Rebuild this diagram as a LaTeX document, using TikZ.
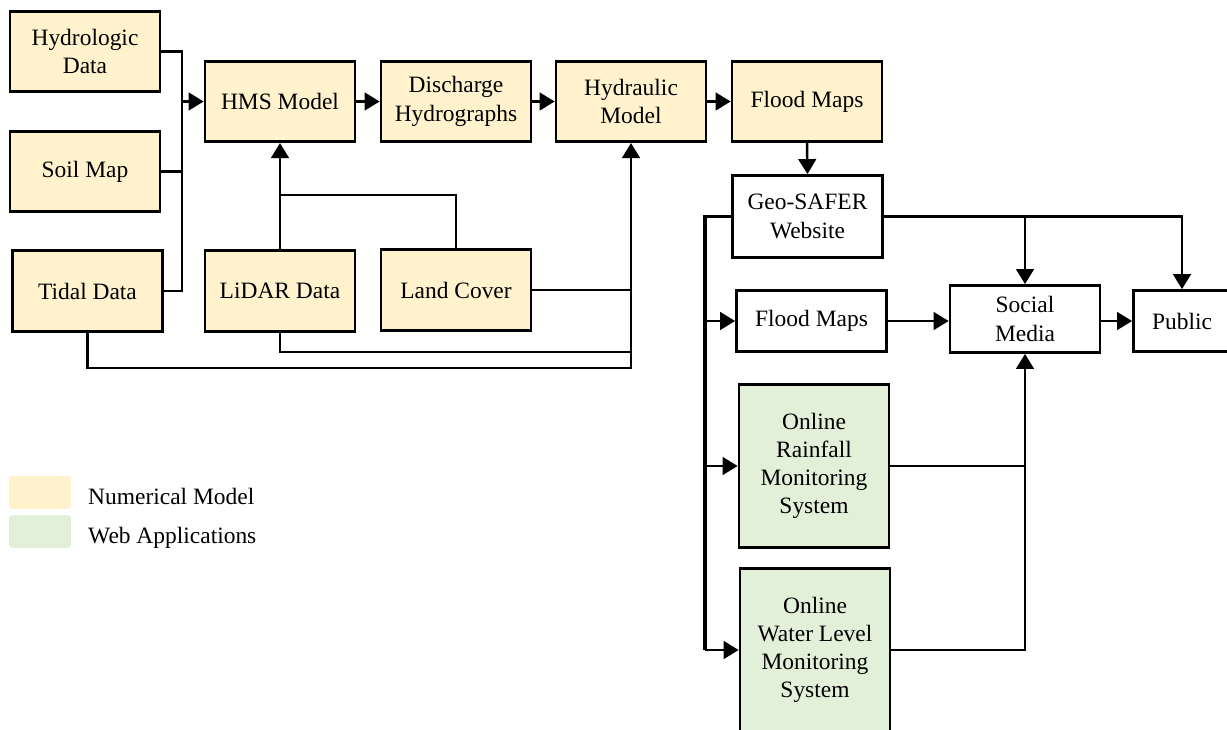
\documentclass[tikz,border=0pt]{standalone}
\usepackage{fontspec}
\setmainfont{Liberation Serif}
\usepackage{tikz}
\usetikzlibrary{%
  arrows.meta,%
  positioning,%
  calc%
}
\definecolor{numfill}{HTML}{FFF2CC}
\definecolor{appfill}{HTML}{E2EFD9}

\begin{document}
\begin{tikzpicture}
[x=0.567pt, y=-0.567pt, font=\fontsize{13.3}{16}\selectfont, line width=1.4pt,
>={Triangle[length=8.5pt, width=10pt]},
numbox/.style={rectangle, draw, line width=1.6pt, fill=numfill, align=center, inner sep=0pt, minimum width=85pt, minimum height=45.5pt},
webbox/.style={rectangle, draw, line width=1.6pt, fill=white, align=center, inner sep=0pt, minimum width=85pt, minimum height=34.5pt},
appbox/.style={rectangle, draw, line width=1.6pt, fill=appfill, align=center, inner sep=0pt, minimum width=85pt, minimum height=92pt},
keybox/.style={rectangle, rounded corners=1.5pt, inner sep=0pt, minimum width=35pt, minimum height=18.5pt},
keytext/.style={anchor=base west, inner sep=0pt}]

\useasboundingbox (0,0) rectangle (1227,729);

% numerical model
\node[numbox] (hydro) at (85,51.5) {Hydrologic\\Data};
\node[numbox] (soil) at (85,171.5) {Soil Map};
\node[numbox] (tidal) at (87.5,291) {Tidal Data};
\node[numbox] (hms) at (280,101.5) {HMS Model};
\node[numbox] (discharge) at (456,101.5) {Discharge\\Hydrographs};
\node[numbox] (hydraulic) at (631,101.5) {Hydraulic\\Model};
\node[numbox] (floodY) at (807,101.5) {Flood Maps};
\node[numbox] (lidar) at (280,291) {LiDAR Data};
\node[numbox] (land) at (456,290) {Land Cover};

% web applications
\node[webbox, minimum height=46.5pt] (geo) at (807.5,216.5) {Geo-SAFER\\Website};
\node[webbox] (floodW) at (811.5,321) {Flood Maps};
\node[webbox, minimum height=38pt] (social) at (1025,319) {Social\\Media};
\node[webbox, minimum width=55pt] (public) at (1182,321) {Public};
\node[appbox] (rain) at (814,466) {Online\\Rainfall\\Monitoring\\System};
\node[appbox] (water) at (815,650) {Online\\Water Level\\Monitoring\\System};

\coordinate (jin) at (182,101.5);
\coordinate (jlc) at (280,195);
\coordinate (jtid) at (631,368);
\coordinate (jlid) at (631,352);
\coordinate (jweb) at (705,216.5);
\coordinate (jwl) at (705,650);
\coordinate (jsm) at (1025,216.5);

\draw (hydro.east) -| (jin) |- (tidal.east);
\draw (soil.east) -- (soil.east -| jin);
\draw[->] (jin) -- (hms.west);
\draw[->] (hms.east) -- (discharge.west);
\draw[->] (discharge.east) -- (hydraulic.west);
\draw[->] (hydraulic.east) -- (floodY.west);

\draw[->] (lidar.north) -- (hms.south);
\draw (jlc) -| (land.north);
\draw[->] (tidal.south) |- (jtid) -- (hydraulic.south);
\draw (lidar.south) |- (jlid);
\draw (land.east) -- (land.east -| jtid);

\draw[->] (floodY.south) -- (geo.north);
\draw[line width=1.8pt] (geo.west) -- (jweb) -- (jwl);
\draw[->] (floodW.west -| jweb) -- (floodW.west);
\draw[->] (rain.west -| jweb) -- (rain.west);
\draw[->] (jwl) -- (water.west);

\draw[->] (geo.east) -| (public.north);
\draw[->] (jsm) -- (social.north);
\draw[->] (floodW.east) -- (floodW.east -| social.west);
\draw[->] (social.east |- public.west) -- (public.west);
\draw (rain.east) -- (rain.east -| social.south);
\draw[->] (water.east) -| (social.south);

% key
\node[keybox, fill=numfill] (keynum) at (40,492.5) {};
\node[keybox, fill=appfill] (keyapp) at (40,531.5) {};
\node[keytext] (numtext) at (87,504) {Numerical Model};
\node[keytext] (apptext) at (87,543) {Web Applications};
\end{tikzpicture}
\end{document}
